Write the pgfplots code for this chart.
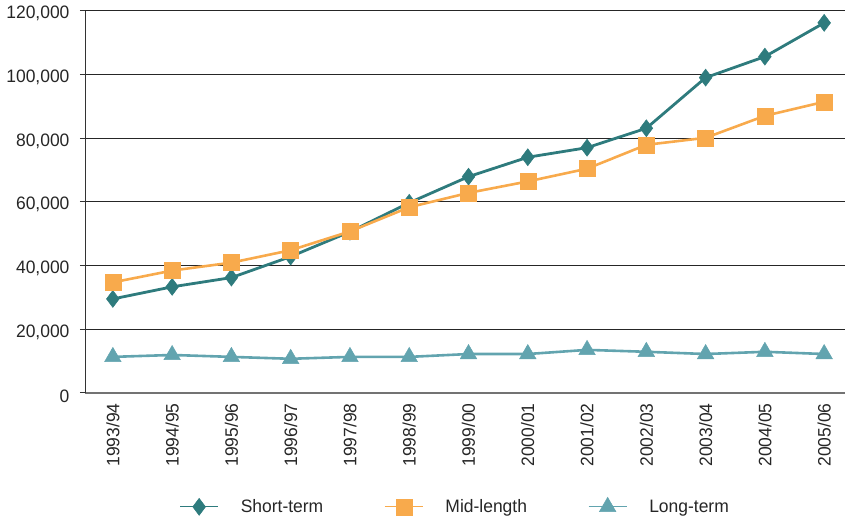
\documentclass[border={3pt 0pt 0pt 3pt}]{standalone}
\usepackage{pgfplots}
\pgfplotsset{compat=1.18}
\usepackage{fontspec}
\setmainfont{Liberation Sans}[FakeStretch=0.97]
\definecolor{shortc}{HTML}{2E7B7D}
\definecolor{midc}{HTML}{F8AA4C}
\definecolor{longc}{HTML}{62A4AF}
\newcommand{\chartfont}{\fontsize{18}{21}\selectfont}
\begin{document}
\begin{tikzpicture}
\begin{axis}[
    scale only axis,
    width=760pt, height=382pt,
    xmin=-0.47, xmax=12.355,
    ymin=0, ymax=120000,
    scaled y ticks=false,
    ytick={0,20000,40000,60000,80000,100000,120000},
    yticklabels={0,{20,000},{40,000},{60,000},{80,000},{100,000},{120,000}},
    xtick={0,...,12},
    xticklabels={1993/94,1994/95,1995/96,1996/97,1997/98,1998/99,1999/00,2000/01,2001/02,2002/03,2003/04,2004/05,2005/06},
    ticklabel style={font=\chartfont, text=black!85},
    yticklabel style={xshift=-7pt, yshift=-3pt},
    xticklabel style={rotate=90, anchor=east, xshift=-2pt},
    axis x line*=bottom, axis y line*=left,
    x axis line style={draw=black!55, line width=1.6pt},
    y axis line style={draw=black!80, line width=0.8pt},
    xtick style={draw=none},
    ytick style={draw=black!80, line width=0.8pt},
    tick align=outside, major tick length=5pt,
    ymajorgrids=true,
    major grid style={draw=black!85, line width=0.8pt},
    legend style={draw=none, at={(0.487,-0.298)}, anchor=center, font=\chartfont, text=black!85},
    legend columns=3,
    legend cell align=left,
    legend image code/.code={\draw[mark repeat=2, mark phase=2, #1, line width=1.2pt] plot coordinates {(0pt,0pt) (19pt,0pt) (38pt,0pt)};},
    /tikz/every odd column/.append style={column sep=20pt},
    /tikz/every even column/.append style={column sep=59pt},
]
\addplot[color=shortc, line width=2.8pt, mark=diamond*, mark size=8.5pt, mark options={solid, line width=0.5pt}]
    coordinates {(0,29500)(1,33300)(2,36200)(3,42800)(4,50600)(5,59700)(6,67900)(7,74000)(8,77000)(9,83100)(10,99000)(11,105600)(12,116200)};
\addplot[color=midc, line width=2.6pt, mark=square*, mark size=8pt, mark options={solid, line width=0.5pt}]
    coordinates {(0,34700)(1,38400)(2,40900)(3,44800)(4,50700)(5,58300)(6,62800)(7,66400)(8,70400)(9,77900)(10,80100)(11,87000)(12,91400)};
\addplot[color=longc, line width=2.6pt, mark=triangle*, mark size=9.5pt, mark options={solid, line width=0.5pt}]
    coordinates {(0,11300)(1,11900)(2,11300)(3,10700)(4,11300)(5,11300)(6,12200)(7,12200)(8,13500)(9,12900)(10,12200)(11,12900)(12,12200)};
\legend{Short-term,Mid-length,Long-term}
\end{axis}
\end{tikzpicture}
\end{document}
